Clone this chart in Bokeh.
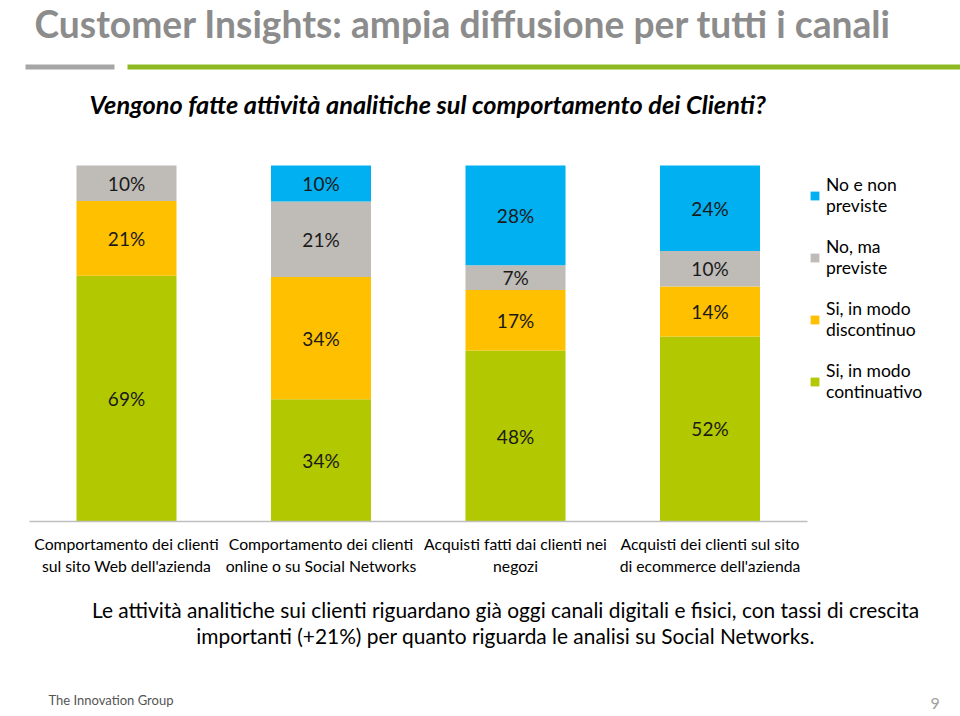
from bokeh.plotting import figure
from bokeh.models import (ColumnDataSource, Label, Legend, LegendItem, Range1d,
                          BoxAnnotation, LinearAxis, FixedTicker)
from bokeh.embed import file_html
from bokeh.resources import INLINE
from bokeh.core.properties import value

# ---------------- data ----------------
categories = [
    "Comportamento dei clienti\nsul sito Web dell'azienda",
    "Comportamento dei clienti\nonline o su Social Networks",
    "Acquisti fatti dai clienti nei\nnegozi",
    "Acquisti dei clienti sul sito\ndi ecommerce dell'azienda",
]
si_continuativo = [69, 34, 48, 52]
si_discontinuo = [21, 34, 17, 14]
no_ma_previste = [10, 21, 7, 10]
no_non_previste = [0, 10, 28, 24]

series_keys = ["cont", "disc", "prev", "nonprev"]
series_labels = ["Si, in modo\ncontinuativo", "Si, in modo\ndiscontinuo",
                 "No, ma\npreviste", "No e non\npreviste"]
series_colors = ["#B2C800", "#FFC000", "#BFBBB7", "#00B0F0"]

title_text = "Customer Insights: ampia diffusione per tutti i canali"
subtitle_text = "Vengono fatte attività analitiche sul comportamento dei Clienti?"
note_lines = [
    "Le attività analitiche sui clienti riguardano già oggi canali digitali e fisici, con tassi di crescita",
    "importanti (+21%) per quanto riguarda le analisi su Social Networks.",
]
footer_text = "The Innovation Group"
page_number = "9"

# ---------------- build (100% stacked) ----------------
W, H = 960, 716
raw = [si_continuativo, si_discontinuo, no_ma_previste, no_non_previste]
totals = [sum(col) for col in zip(*raw)]
norm = {k: [v / t for v, t in zip(vals, totals)] for k, vals in zip(series_keys, raw)}
xi = list(range(len(categories)))
src = ColumnDataSource(dict(xi=xi, **norm))

lx, ly, lt = [], [], []
for i in xi:
    base = 0.0
    for k, vals in zip(series_keys, raw):
        frac = norm[k][i]
        if vals[i] > 0:
            lx.append(i)
            ly.append(base + frac / 2)
            lt.append(f"{vals[i]}%")
        base += frac
lab_src = ColumnDataSource(dict(x=lx, y=ly, t=lt))

FONT = "Lato"

# frame covers whole canvas; ranges chosen so the plot area sits where it does in the slide
x0_px, step_px = 126.0, 194.5      # centre of first bar, distance between bars
y0_px, full_px = 521.0, 356.0      # baseline and height of 100 %
x_range = Range1d(-x0_px / step_px, (W - x0_px) / step_px)
y_range = Range1d(-(H - y0_px) / full_px, y0_px / full_px)

p = figure(width=W, height=H, x_range=x_range, y_range=y_range,
           output_backend="svg", toolbar_location=None,
           x_axis_location=None, y_axis_location=None,
           min_border=0, min_border_left=0, min_border_right=0,
           min_border_top=0, min_border_bottom=0)
p.xgrid.visible = False
p.ygrid.visible = False
p.outline_line_color = None
p.background_fill_color = "white"
p.border_fill_color = "white"

ax = LinearAxis(fixed_location=0, bounds=(-0.5, len(categories) - 0.5),
                ticker=FixedTicker(ticks=xi),
                major_label_overrides={i: c for i, c in zip(xi, categories)})
ax.axis_line_color = "#BFBFBF"
ax.axis_line_width = 1.5
ax.major_tick_line_color = None
ax.minor_tick_line_color = None
ax.major_label_text_font = FONT
ax.major_label_text_font_size = "15.75px"
ax.major_label_text_color = "#000000"
ax.major_label_standoff = 6
p.add_layout(ax, "below")

rs = p.vbar_stack(series_keys, x="xi", width=100 / step_px, source=src,
                  fill_color=series_colors, line_color=None)

p.text(x="x", y="y", text="t", source=lab_src, text_align="center",
       text_baseline="middle", text_font=value(FONT), text_font_size="19px",
       text_color="#1A1A1A")

items = [LegendItem(label=series_labels[i], renderers=[rs[i]]) for i in [3, 2, 1, 0]]
legend = Legend(items=items, location=(809, 314), label_text_font=FONT,
                label_text_font_size="17.5px", label_text_color="#000000",
                label_text_line_height=1.45,
                glyph_width=11, glyph_height=11, spacing=20, padding=0,
                margin=0, label_standoff=6, border_line_color=None,
                background_fill_alpha=0)
p.add_layout(legend)

def lab(x, y_top_down, text, **kw):
    p.add_layout(Label(x=x, y=H - y_top_down, x_units="screen", y_units="screen",
                       text=text, text_font=kw.pop("font", FONT), **kw))

lab(34, 0, title_text, text_font_size="37.2px", text_font_style="bold",
    text_color="#8C8C8C", text_baseline="top")
lab(89, 118, subtitle_text, text_font_size="25.3px", text_font_style="bold italic",
    text_color="#000000")
lab(505, 621, note_lines[0], text_font_size="20.9px", text_align="center",
    text_color="#000000")
lab(505, 647, note_lines[1], text_font_size="20.9px", text_align="center",
    text_color="#000000")
lab(48, 707, footer_text, text_font_size="13px", text_color="#555555")
lab(930, 708, page_number, text_font_size="16px", text_color="#A0A0A0")

def box(l, r, t, b, color):
    p.add_layout(BoxAnnotation(left=l, right=r, bottom=H - b, top=H - t,
                               left_units="screen", right_units="screen",
                               bottom_units="screen", top_units="screen",
                               fill_color=color, fill_alpha=1, line_color=None))

box(25, 114, 64, 69, "#A6A6A6")
box(127, 960, 64, 69, "#8DBA22")

open("out.html", "w").write(file_html(p, INLINE))
